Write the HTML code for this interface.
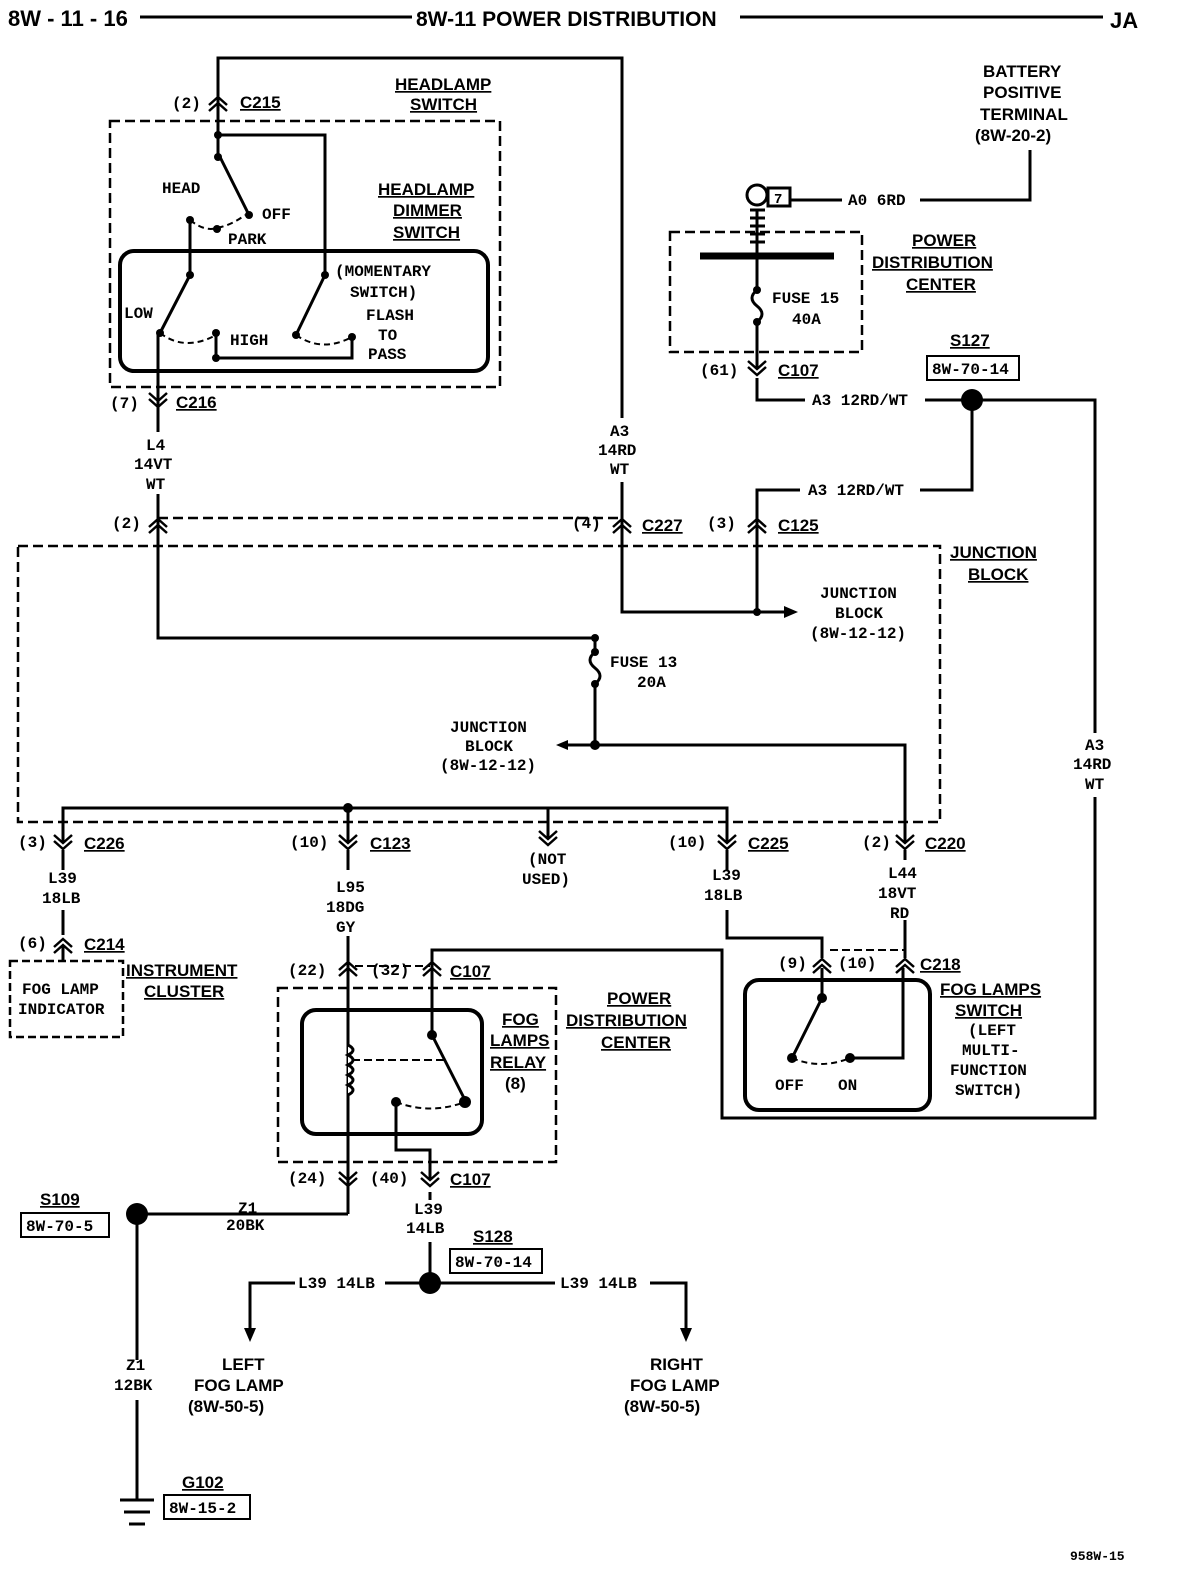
<!DOCTYPE html>
<html><head><meta charset="utf-8"><style>
html,body{margin:0;padding:0;background:#fff;}
svg{display:block;}
text{font-family:"Liberation Mono",monospace;font-weight:bold;font-size:16px;fill:#000;}
.h{font-family:"Liberation Sans",sans-serif;font-weight:bold;font-size:17px;text-decoration:underline;}
.t{font-family:"Liberation Sans",sans-serif;font-weight:bold;font-size:22px;}
</style></head><body>
<svg width="1184" height="1578" viewBox="0 0 1184 1578" xmlns="http://www.w3.org/2000/svg">
<defs>
<path id="up" d="M-9,5 L0,-3 L9,5 M-9,11 L0,3 L9,11" fill="none" stroke="#000" stroke-width="2.5"/>
<path id="dn" d="M-9,-5 L0,3 L9,-5 M-9,-11 L0,-3 L9,-11" fill="none" stroke="#000" stroke-width="2.5"/>
</defs>
<rect width="1184" height="1578" fill="#fff"/>
<!-- header -->
<text x="8" y="26" class="t">8W - 11 - 16</text>
<line x1="140" y1="17" x2="412" y2="17" stroke="#000" stroke-width="3"/>
<text x="416" y="26" class="t" style="font-size:21px">8W-11 POWER DISTRIBUTION</text>
<line x1="740" y1="17" x2="1103" y2="17" stroke="#000" stroke-width="3"/>
<text x="1110" y="28" class="t">JA</text>

<g fill="none" stroke="#000" stroke-width="3">
<polyline points="218,135 218,58 622,58 622,520"/>
<rect x="110" y="121" width="390" height="266" stroke-dasharray="10,5" stroke-width="2.5"/>
<polyline points="218,135 325,135 325,275"/>
<line x1="218" y1="135" x2="218" y2="157"/>
<line x1="220" y1="157" x2="249" y2="215"/>
<line x1="190" y1="220" x2="190" y2="275"/>
<path d="M190,220 Q205,232 217,228 Q232,225 245,215" stroke-dasharray="6,4" stroke-width="2"/>
<rect x="120" y="251" width="368" height="120" rx="14" stroke-width="4"/>
<line x1="190" y1="275" x2="160" y2="333"/>
<line x1="325" y1="275" x2="296" y2="335"/>
<path d="M160,333 Q185,352 216,335" stroke-dasharray="6,4" stroke-width="2"/>
<path d="M296,335 Q322,353 352,337" stroke-dasharray="6,4" stroke-width="2"/>
<polyline points="216,333 216,358 352,358 352,337"/>
<line x1="158" y1="333" x2="158" y2="520"/>
<line x1="158" y1="518" x2="622" y2="518" stroke-dasharray="10,5" stroke-width="2.5"/>
<rect x="18" y="546" width="922" height="276" stroke-dasharray="10,5" stroke-width="2.5"/>
<polyline points="622,520 622,612 780,612"/>
<polyline points="757,520 757,490 800,490"/>
<line x1="757" y1="490" x2="757" y2="612"/>
<polyline points="920,490 972,490 972,400"/>
<polyline points="158,520 158,638 595,638 595,652"/>
<path d="M595,652 Q585,660 595,668 Q605,676 595,684"/>
<polyline points="595,684 595,745 905,745 905,842"/>
<line x1="560" y1="745" x2="595" y2="745"/>
<polyline points="63,842 63,808 727,808 727,842"/>
<line x1="348" y1="808" x2="348" y2="842"/>
<line x1="548" y1="808" x2="548" y2="838"/>
<polyline points="790,200 842,200"/>
<polyline points="920,200 1030,200 1030,150"/>
<rect x="670" y="232" width="192" height="120" stroke-dasharray="10,5" stroke-width="2.5"/>
<line x1="700" y1="256" x2="834" y2="256" stroke-width="7"/>
<line x1="757" y1="210" x2="757" y2="290"/>
<path d="M757,290 Q747,298 757,306 Q767,314 757,322"/>
<line x1="757" y1="322" x2="757" y2="368"/>
<polyline points="757,378 757,400 805,400"/>
<polyline points="925,400 1095,400 1095,1118 722,1118 722,950 432,950 432,968"/>
<line x1="63" y1="850" x2="63" y2="870"/>
<line x1="63" y1="910" x2="63" y2="935"/>
<line x1="63" y1="945" x2="63" y2="960"/>
<rect x="10" y="961" width="113" height="76" stroke-dasharray="8,4" stroke-width="2.5"/>
<line x1="348" y1="850" x2="348" y2="870"/>
<line x1="348" y1="935" x2="348" y2="1180"/>
<rect x="278" y="988" width="278" height="174" stroke-dasharray="10,5" stroke-width="2.5"/>
<rect x="302" y="1010" width="180" height="124" rx="14" stroke-width="4"/>
<path d="M348,1045 q10,5 0,10 q10,5 0,10 q10,5 0,10 q10,5 0,10 q10,5 0,10" fill="#fff"/>
<line x1="432" y1="968" x2="432" y2="1035"/>
<line x1="432" y1="1035" x2="465" y2="1100"/>
<line x1="352" y1="1060" x2="448" y2="1060" stroke-dasharray="8,4" stroke-width="2"/>
<path d="M396,1102 Q430,1115 465,1102" stroke-dasharray="6,4" stroke-width="2"/>
<polyline points="396,1102 396,1150 430,1150 430,1180"/>
<line x1="348" y1="1180" x2="348" y2="1214"/>
<line x1="355" y1="966" x2="430" y2="966" stroke-dasharray="8,4" stroke-width="2"/>
<line x1="137" y1="1214" x2="348" y2="1214"/>
<line x1="137" y1="1214" x2="137" y2="1360"/>
<line x1="137" y1="1400" x2="137" y2="1500"/>
<line x1="120" y1="1500" x2="154" y2="1500"/>
<line x1="124" y1="1512" x2="150" y2="1512"/>
<line x1="129" y1="1524" x2="145" y2="1524"/>
<line x1="430" y1="1192" x2="430" y2="1210"/>
<line x1="430" y1="1240" x2="430" y2="1283"/>
<polyline points="295,1283 250,1283 250,1338"/>
<line x1="385" y1="1283" x2="475" y2="1283"/>
<line x1="430" y1="1283" x2="555" y2="1283"/>
<polyline points="650,1283 686,1283 686,1338"/>
<polyline points="727,850 727,870"/>
<polyline points="727,910 727,938 822,938 822,958"/>
<line x1="905" y1="850" x2="905" y2="860"/>
<line x1="905" y1="920" x2="905" y2="958"/>
<line x1="830" y1="950" x2="905" y2="950" stroke-dasharray="8,4" stroke-width="2"/>
<rect x="745" y="980" width="185" height="130" rx="14" stroke-width="4"/>
<line x1="822" y1="968" x2="822" y2="998"/>
<line x1="822" y1="998" x2="792" y2="1058"/>
<path d="M792,1058 Q820,1070 850,1058" stroke-dasharray="6,4" stroke-width="2"/>
<polyline points="850,1058 903,1058 903,968"/>
<line x1="780" y1="612" x2="790" y2="612"/>
</g>
<!-- white masks behind wire labels -->
<g fill="#fff">
<rect x="130" y="432" width="56" height="62"/>
<rect x="594" y="418" width="56" height="64"/>
<rect x="1066" y="733" width="56" height="64"/>
<rect x="320" y="870" width="56" height="66"/>
<rect x="110" y="1360" width="54" height="40"/>
<rect x="400" y="1200" width="58" height="42"/>
</g>
<g fill="#000">
<path d="M798,612 L784,606 L784,618Z"/>
<path d="M556,745 L568,740 L568,750Z"/>
<path d="M250,1342 L244,1328 L256,1328Z"/>
<path d="M686,1342 L680,1328 L692,1328Z"/>
<circle cx="218" cy="135" r="4"/><circle cx="218" cy="157" r="4"/><circle cx="249" cy="215" r="4"/>
<circle cx="190" cy="220" r="4"/><circle cx="217" cy="229" r="4"/>
<circle cx="190" cy="275" r="4"/><circle cx="325" cy="275" r="4"/>
<circle cx="160" cy="333" r="4"/><circle cx="216" cy="333" r="4"/><circle cx="216" cy="358" r="4"/>
<circle cx="296" cy="335" r="4"/><circle cx="352" cy="337" r="4"/>
<circle cx="595" cy="638" r="4"/><circle cx="595" cy="684" r="4"/><circle cx="595" cy="652" r="4"/>
<circle cx="595" cy="745" r="5"/><circle cx="757" cy="612" r="4"/>
<circle cx="348" cy="808" r="5"/>
<circle cx="757" cy="322" r="4"/><circle cx="757" cy="290" r="4"/>
<circle cx="972" cy="400" r="11"/>
<circle cx="137" cy="1214" r="11"/>
<circle cx="430" cy="1283" r="11"/>
<circle cx="432" cy="1035" r="5"/><circle cx="465" cy="1102" r="6"/><circle cx="396" cy="1102" r="5"/>
<circle cx="822" cy="998" r="5"/><circle cx="792" cy="1058" r="5"/><circle cx="850" cy="1058" r="5"/>
</g>
<g fill="none" stroke="#000" stroke-width="3">
<circle cx="757" cy="195" r="10"/>
<rect x="768" y="188" width="22" height="18"/>
<path d="M750,210 h15 M750,218 h15 M750,226 h15 M750,234 h15 M750,242 h15"/>
</g>
<text x="774" y="203" style="font-size:14px">7</text>
<use href="#up" x="218" y="100"/>
<use href="#dn" x="158" y="404"/>
<use href="#up" x="158" y="522"/>
<use href="#up" x="622" y="522"/>
<use href="#up" x="757" y="522"/>
<use href="#dn" x="757" y="372"/>
<use href="#dn" x="63" y="846"/>
<use href="#dn" x="348" y="846"/>
<use href="#dn" x="727" y="846"/>
<use href="#dn" x="905" y="846"/>
<use href="#dn" x="548" y="842"/>
<use href="#up" x="63" y="942"/>
<use href="#up" x="348" y="965"/>
<use href="#up" x="432" y="965"/>
<use href="#dn" x="348" y="1183"/>
<use href="#dn" x="430" y="1183"/>
<use href="#up" x="822" y="962"/>
<use href="#up" x="905" y="962"/>
<text x="172" y="108">(2)</text><text x="240" y="108" class="h">C215</text>
<text x="395" y="90" class="h">HEADLAMP</text><text x="410" y="110" class="h">SWITCH</text>
<text x="162" y="193">HEAD</text><text x="262" y="219">OFF</text><text x="228" y="244">PARK</text>
<text x="378" y="195" class="h">HEADLAMP</text><text x="393" y="216" class="h">DIMMER</text><text x="393" y="238" class="h">SWITCH</text>
<text x="335" y="276">(MOMENTARY</text><text x="350" y="297">SWITCH)</text>
<text x="124" y="318">LOW</text><text x="230" y="345">HIGH</text>
<text x="366" y="320">FLASH</text><text x="378" y="340">TO</text><text x="368" y="359">PASS</text>
<text x="110" y="408">(7)</text><text x="176" y="408" class="h">C216</text>
<text x="146" y="450">L4</text><text x="134" y="469">14VT</text><text x="146" y="489">WT</text>
<text x="112" y="528">(2)</text>
<text x="610" y="436">A3</text><text x="598" y="455">14RD</text><text x="610" y="474">WT</text>
<text x="572" y="528">(4)</text><text x="642" y="531" class="h">C227</text>
<text x="707" y="528">(3)</text><text x="778" y="531" class="h">C125</text>
<text x="808" y="495">A3 12RD/WT</text>
<text x="950" y="558" class="h">JUNCTION</text><text x="968" y="580" class="h">BLOCK</text>
<text x="820" y="598">JUNCTION</text><text x="835" y="618">BLOCK</text><text x="810" y="638">(8W-12-12)</text>
<text x="610" y="667">FUSE 13</text><text x="637" y="687">20A</text>
<text x="450" y="732">JUNCTION</text><text x="465" y="751">BLOCK</text><text x="440" y="770">(8W-12-12)</text>
<text x="983" y="77" class="h" style="text-decoration:none">BATTERY</text>
<text x="983" y="98" class="h" style="text-decoration:none">POSITIVE</text>
<text x="980" y="120" class="h" style="text-decoration:none">TERMINAL</text>
<text x="975" y="141" class="h" style="text-decoration:none">(8W-20-2)</text>
<text x="848" y="205">A0 6RD</text>
<text x="912" y="246" class="h">POWER</text><text x="872" y="268" class="h">DISTRIBUTION</text><text x="906" y="290" class="h">CENTER</text>
<text x="772" y="303">FUSE 15</text><text x="792" y="324">40A</text>
<text x="700" y="375">(61)</text><text x="778" y="376" class="h">C107</text>
<text x="950" y="346" class="h">S127</text>
<rect x="927" y="356" width="92" height="24" fill="none" stroke="#000" stroke-width="2"/><text x="932" y="374">8W-70-14</text>
<text x="812" y="405">A3 12RD/WT</text>
<text x="1085" y="750">A3</text><text x="1073" y="769">14RD</text><text x="1085" y="789">WT</text>
<text x="18" y="847">(3)</text><text x="84" y="849" class="h">C226</text>
<text x="290" y="847">(10)</text><text x="370" y="849" class="h">C123</text>
<text x="528" y="864">(NOT</text><text x="522" y="884">USED)</text>
<text x="668" y="847">(10)</text><text x="748" y="849" class="h">C225</text>
<text x="862" y="847">(2)</text><text x="925" y="849" class="h">C220</text>
<text x="48" y="883">L39</text><text x="42" y="903">18LB</text>
<text x="336" y="892">L95</text><text x="326" y="912">18DG</text><text x="336" y="932">GY</text>
<text x="712" y="880">L39</text><text x="704" y="900">18LB</text>
<text x="888" y="878">L44</text><text x="878" y="898">18VT</text><text x="890" y="918">RD</text>
<text x="18" y="948">(6)</text><text x="84" y="950" class="h">C214</text>
<text x="22" y="994">FOG LAMP</text><text x="18" y="1014">INDICATOR</text>
<text x="126" y="976" class="h">INSTRUMENT</text><text x="144" y="997" class="h">CLUSTER</text>
<text x="288" y="975">(22)</text><text x="371" y="975">(32)</text><text x="450" y="977" class="h">C107</text>
<text x="502" y="1025" class="h">FOG</text><text x="490" y="1046" class="h">LAMPS</text><text x="490" y="1068" class="h">RELAY</text><text x="505" y="1089" class="h" style="text-decoration:none">(8)</text>
<text x="607" y="1004" class="h">POWER</text><text x="566" y="1026" class="h">DISTRIBUTION</text><text x="601" y="1048" class="h">CENTER</text>
<text x="778" y="968">(9)</text><text x="838" y="968">(10)</text><text x="920" y="970" class="h">C218</text>
<text x="940" y="995" class="h">FOG LAMPS</text><text x="955" y="1016" class="h">SWITCH</text>
<text x="968" y="1035">(LEFT</text><text x="962" y="1055">MULTI-</text><text x="950" y="1075">FUNCTION</text><text x="955" y="1095">SWITCH)</text>
<text x="775" y="1090">OFF</text><text x="838" y="1090">ON</text>
<text x="288" y="1183">(24)</text><text x="370" y="1183">(40)</text><text x="450" y="1185" class="h">C107</text>
<text x="40" y="1205" class="h">S109</text>
<rect x="21" y="1213" width="88" height="24" fill="none" stroke="#000" stroke-width="2"/><text x="26" y="1231">8W-70-5</text>
<text x="238" y="1213">Z1</text><text x="226" y="1230">20BK</text>
<text x="414" y="1214">L39</text><text x="406" y="1233">14LB</text>
<text x="473" y="1242" class="h">S128</text>
<rect x="450" y="1249" width="92" height="24" fill="none" stroke="#000" stroke-width="2"/><text x="455" y="1267">8W-70-14</text>
<text x="298" y="1288">L39 14LB</text><text x="560" y="1288">L39 14LB</text>
<text x="126" y="1370">Z1</text><text x="114" y="1390">12BK</text>
<text x="222" y="1370" class="h" style="text-decoration:none">LEFT</text><text x="194" y="1391" class="h" style="text-decoration:none">FOG LAMP</text><text x="188" y="1412" class="h" style="text-decoration:none">(8W-50-5)</text>
<text x="650" y="1370" class="h" style="text-decoration:none">RIGHT</text><text x="630" y="1391" class="h" style="text-decoration:none">FOG LAMP</text><text x="624" y="1412" class="h" style="text-decoration:none">(8W-50-5)</text>
<text x="182" y="1488" class="h">G102</text>
<rect x="164" y="1495" width="86" height="24" fill="none" stroke="#000" stroke-width="2"/><text x="169" y="1513">8W-15-2</text>
<text x="1070" y="1560" style="font-size:13px">958W-15</text>
</svg>
</body></html>
